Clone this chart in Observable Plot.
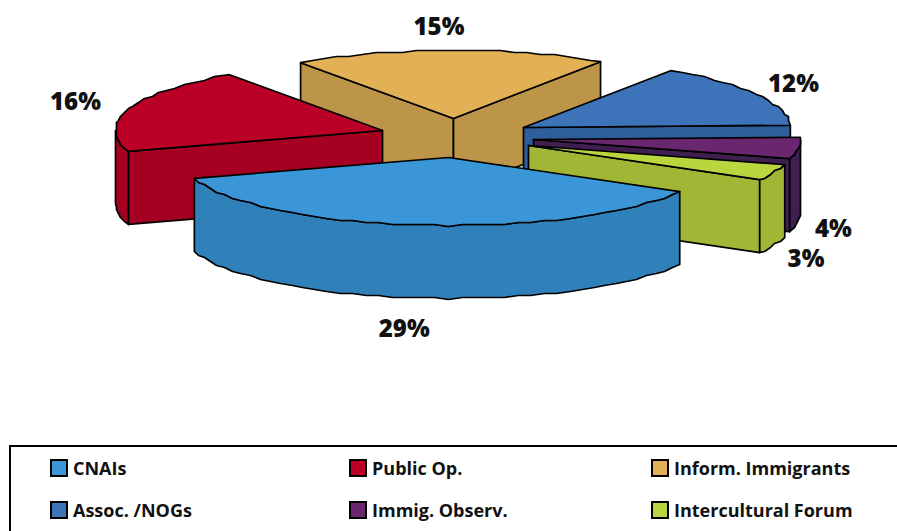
<!DOCTYPE html>
<html>
<head>
<meta charset="utf-8">
<script src="https://cdn.jsdelivr.net/npm/d3@7"></script>
<script src="https://cdn.jsdelivr.net/npm/@observablehq/plot@0.6"></script>
<style>
html,body{margin:0;padding:0;background:#fff;overflow:hidden}
#chart svg{display:block}
#legend{position:absolute;left:9px;top:445px;width:900px;height:100px;border:2px solid #000;box-sizing:border-box;background:#fff}
.item{position:absolute;display:flex;align-items:center;font:700 18px "Open Sans",sans-serif;color:#111;white-space:nowrap;height:20px}
.sw{width:14px;height:14px;border:2px solid #000;margin-right:5px;flex:none}
</style>
</head>
<body>
<div id="chart"></div>
<div id="legend"></div>
<script>
// Data
const categories = ["CNAIs","Public Op.","Inform. Immigrants","Assoc. /NOGs","Immig. Observ.","Intercultural Forum"];
const shares = [29,16,15,12,4,3];

// Styles
const topColors  = ["#3A96D6","#BA0026","#E2B055","#3D73B8","#6B2670","#BAD63F"];
const wallColors = ["#3080BA","#A50021","#BD9548","#2F5F9B","#3E1F4E","#A2B636"];

// Pie layout
const startAngle = 120, radius = 267, tilt = 0.255, depth = 73, arcStep = 3, snap = 2;
const centre = [455,135];
const pull = [[-7,22],[-73,-5],[-2,-17],[68,-8],[78,4],[73,10]];
const labelNudge = [[-16,104],[-54,-6],[-11,-23],[37,-10],[35,81],[32,87]];
const paintOrder = [2,3,1,4,5,0];
const frontArcs = [[90,270],[450,630]];

const rad = d => d*Math.PI/180;
const total = d3.sum(shares);
let acc = startAngle;
const wedges = shares.map((v,i)=>{
  const a0 = acc, a1 = acc + v/total*360; acc = a1;
  return {i, a0, a1, cx:centre[0]+pull[i][0], cy:centre[1]+pull[i][1]};
});
const rimPoint = (w,a) => [w.cx + radius*Math.sin(rad(a)), w.cy - radius*tilt*Math.cos(rad(a))];
const quant = p => [Math.round(p[0]/snap)*snap, Math.round(p[1]/snap)*snap];
const arcPts = (w,a0,a1) => {
  const out = [rimPoint(w,a0)];
  for (let a = a0+arcStep; a < a1-arcStep/2; a += arcStep) out.push(quant(rimPoint(w,a)));
  out.push(rimPoint(w,a1));
  return out;
};

const polys = [];
let pid = 0;
const addPoly = (pts,color) => { const id = pid++; pts.forEach(([x,y])=>polys.push({id,x,y,color})); };
const down = pts => pts.map(([x,y])=>[x,y+depth]);
const sin = a => Math.sin(rad(a));

for (const k of paintOrder) {
  const w = wedges[k], apex = [w.cx,w.cy], wall = wallColors[k];
  // side walls that face the viewer
  if (sin(w.a0) < 0) { const q = rimPoint(w,w.a0); addPoly([apex,q,...down([q,apex])],wall); }
  if (sin(w.a1) > 0) { const q = rimPoint(w,w.a1); addPoly([apex,q,...down([q,apex])],wall); }
  // outer rim, only the arc that faces the viewer
  for (const [lo,hi] of frontArcs) {
    const from = Math.max(w.a0,lo), to = Math.min(w.a1,hi);
    if (to > from) {
      const arc = arcPts(w,from,to);
      addPoly([...arc,...down(arc).reverse()],wall);
    }
  }
  addPoly([apex,...arcPts(w,w.a0,w.a1)],topColors[k]);
}

const labels = wedges.map(w=>{
  const p = rimPoint(w,(w.a0+w.a1)/2);
  return {x:p[0]+labelNudge[w.i][0], y:p[1]+labelNudge[w.i][1], t:shares[w.i]+"%"};
});

const plot = Plot.plot({
  width:897, height:445, margin:0,
  x:{domain:[0,897],range:[0,897],axis:null},
  y:{domain:[445,0],range:[445,0],axis:null},
  marks:[
    Plot.line(polys,{x:"x",y:"y",z:"id",fill:"color",stroke:"#000",strokeWidth:1.7,strokeLinejoin:"round",curve:"linear-closed"}),
    Plot.text(labels,{x:"x",y:"y",text:"t",fontSize:24,fontWeight:800,fontFamily:"Open Sans",fill:"#111"})
  ]
});
document.getElementById("chart").append(plot);

// Legend below the drawing
const legend = document.getElementById("legend");
const colX = [39,338,640], rowY = [11,52.5];
categories.forEach((c,i)=>{
  const el = document.createElement("div");
  el.className = "item";
  el.style.left = colX[i%3]+"px";
  el.style.top = rowY[Math.floor(i/3)]+"px";
  const s = document.createElement("span");
  s.className = "sw"; s.style.background = topColors[i];
  el.append(s, document.createTextNode(c));
  legend.append(el);
});
</script>
</body>
</html>
